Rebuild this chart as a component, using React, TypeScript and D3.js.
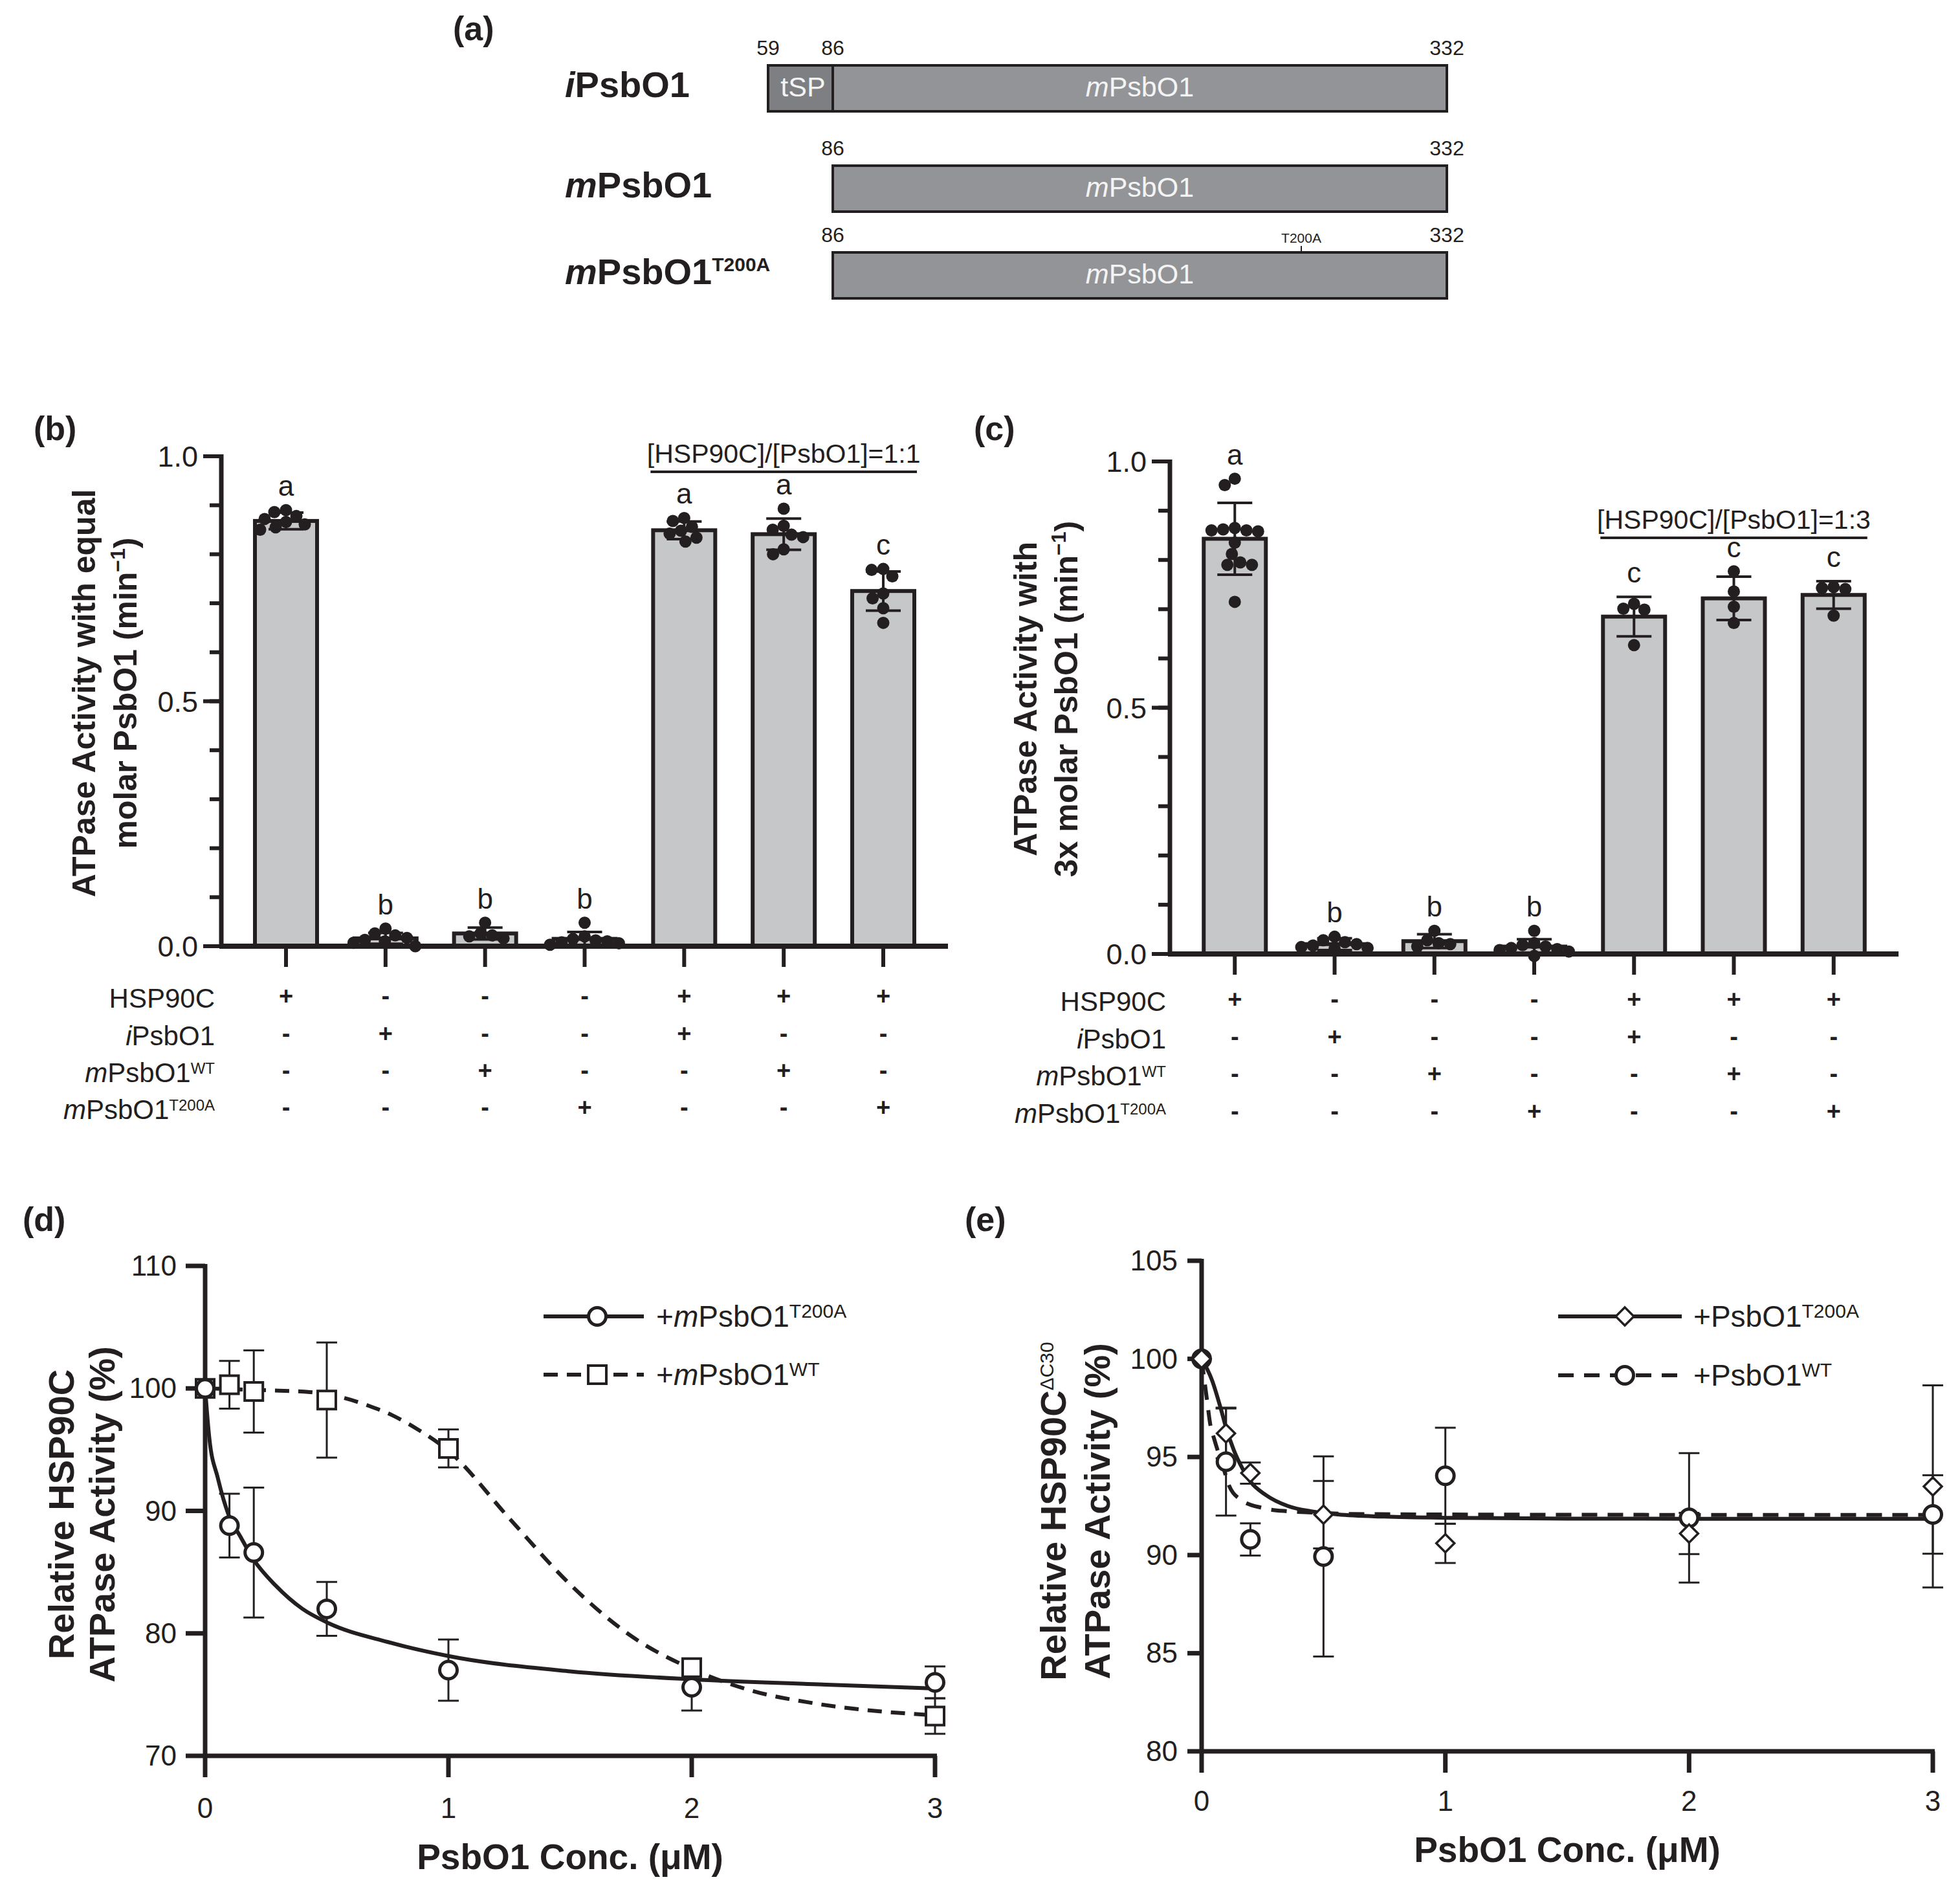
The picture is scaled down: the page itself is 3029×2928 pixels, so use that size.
import React, { useEffect } from 'react';
import * as d3 from 'd3';

const FONT = "'Liberation Sans', Arial, Helvetica, sans-serif";
const INK = '#231f20';

// (a) construct map
const CONSTRUCT_PREFIX = ['i', 'm', 'm'];
const CONSTRUCT_SUP = ['', '', 'T200A'];
const CONSTRUCT_START = [59, 86, 86];
const CONSTRUCT_END = [332, 332, 332];
const TRANSIT_END = 86;
const MUTATION_SITE = 200;

// (b) / (c) bar charts
const ROW_PREFIX = ['', 'i', 'm', 'm'];
const ROW_NAME = ['HSP90C', 'PsbO1', 'PsbO1', 'PsbO1'];
const ROW_SUP = ['', '', 'WT', 'T200A'];
const MIX = [
  ['+', '-', '-', '-', '+', '+', '+'],
  ['-', '+', '-', '-', '+', '-', '-'],
  ['-', '-', '+', '-', '-', '+', '-'],
  ['-', '-', '-', '+', '-', '-', '+'],
];

const B_MEAN = [0.868, 0.016, 0.026, 0.015, 0.849, 0.841, 0.725];
const B_SD = [0.017, 0.011, 0.012, 0.014, 0.018, 0.032, 0.04];
const B_DOTS = [
  [0.89, 0.886, 0.878, 0.872, 0.866, 0.861, 0.855, 0.85],
  [0.036, 0.026, 0.022, 0.017, 0.013, 0.01, 0.007, 0.0],
  [0.048, 0.026, 0.022, 0.02, 0.016],
  [0.048, 0.02, 0.015, 0.012, 0.01, 0.008, 0.006, 0.003],
  [0.874, 0.868, 0.856, 0.848, 0.842, 0.834, 0.826],
  [0.893, 0.858, 0.85, 0.84, 0.835, 0.81, 0.8],
  [0.77, 0.768, 0.755, 0.72, 0.71, 0.69, 0.66],
];
const B_LETTERS = ['a', 'b', 'b', 'b', 'a', 'a', 'c'];

const C_MEAN = [0.843, 0.02, 0.026, 0.015, 0.685, 0.722, 0.729];
const C_SD = [0.073, 0.012, 0.014, 0.015, 0.04, 0.044, 0.028];
const C_DOTS = [
  [0.965, 0.952, 0.865, 0.862, 0.86, 0.858, 0.86, 0.835, 0.812, 0.795, 0.79, 0.79, 0.715],
  [0.035, 0.028, 0.024, 0.02, 0.017, 0.014, 0.012, 0.01],
  [0.047, 0.028, 0.022, 0.02, 0.015],
  [0.047, 0.022, 0.018, 0.015, 0.012, 0.01, 0.008, 0.005, -0.004],
  [0.711, 0.699, 0.701, 0.627],
  [0.777, 0.736, 0.705, 0.672],
  [0.745, 0.741, 0.743, 0.687],
];
const C_LETTERS = ['a', 'b', 'b', 'b', 'c', 'c', 'c'];

// (d) / (e) titration
const CONC = [0, 0.1, 0.2, 0.5, 1, 2, 3];

const D_T200A_MEAN = [100, 88.8, 86.6, 82.0, 77.0, 75.6, 76.0];
const D_T200A_SD = [0, 2.6, 5.3, 2.2, 2.5, 1.9, 1.3];
const D_WT_MEAN = [100, 100.3, 99.75, 99.05, 95.1, 77.2, 73.25];
const D_WT_SD = [0, 1.95, 3.35, 4.7, 1.55, 0.6, 1.45];
const D_FIT_T200A: [number, number][] = [
  [0, 100], [0.017, 96.0], [0.052, 92.7], [0.096, 89.7], [0.145, 87.9], [0.2, 86.0],
  [0.29, 83.9], [0.4, 82.0], [0.5, 80.9], [0.75, 79.3], [1, 78.15], [1.5, 76.9],
  [2, 76.25], [2.5, 75.85], [3, 75.5],
];
const D_FIT_WT: [number, number][] = [
  [0, 100], [0.25, 99.85], [0.43, 99.7], [0.575, 99.2], [0.67, 98.6], [0.77, 97.8],
  [0.87, 96.7], [1, 94.9], [1.25, 89.4], [1.5, 84.0], [1.75, 79.8], [2, 77.1],
  [2.25, 75.3], [2.5, 74.3], [3, 73.3],
];

const E_T200A_MEAN = [100, 96.2, 94.18, 92.06, 90.6, 91.1, 93.5];
const E_T200A_SD = [0, 1.27, 0.54, 1.72, 1.0, 1.05, 5.15];
const E_WT_MEAN = [100, 94.76, 90.8, 89.93, 94.04, 91.9, 92.07];
const E_WT_SD = [0, 2.75, 0.82, 5.1, 2.45, 3.3, 2.0];
const E_FIT_T200A: [number, number][] = [
  [0, 100], [0.043, 98.9], [0.079, 97.45], [0.1, 96.5], [0.132, 95.35], [0.168, 94.4],
  [0.2, 93.75], [0.265, 93.05], [0.354, 92.5], [0.45, 92.23], [0.56, 92.07],
  [0.75, 91.96], [1, 91.9], [1.5, 91.86], [2, 91.85], [3, 91.85],
];
const E_FIT_WT: [number, number][] = [
  [0, 100], [0.021, 98.0], [0.035, 96.7], [0.052, 95.9], [0.088, 94.5], [0.114, 93.5],
  [0.16, 92.83], [0.25, 92.4], [0.354, 92.23], [0.45, 92.17], [0.6, 92.1], [1, 92.07],
  [2, 92.05], [3, 92.05],
];

// simple beeswarm: nudge dots sideways until they stop overlapping
function swarm(vals: number[], y: (v: number) => number, r: number) {
  const placed: { dx: number; py: number }[] = [];
  const out: { dx: number; py: number }[] = new Array(vals.length);
  const order = d3.range(vals.length).sort((a, b) => vals[b] - vals[a]);
  const minD = 2 * r - 1;
  order.forEach((i) => {
    const py = y(vals[i]);
    let dx = 0;
    for (let k = 0; k < 800; k++) {
      const c = (k % 2 === 0 ? 1 : -1) * Math.ceil(k / 2) * 0.5;
      if (placed.every((p) => Math.hypot(p.dx - c, p.py - py) >= minD)) {
        dx = c;
        break;
      }
    }
    const pt = { dx, py };
    placed.push(pt);
    out[i] = pt;
  });
  return out;
}

const ConstructMap = () => {
  const x = d3
    .scaleLinear()
    .domain([59, TRANSIT_END, MUTATION_SITE, 332])
    .range([1187, 1287, 2011, 2236]);
  const rowTop = [101, 256, 390];
  const h = 71;
  return (
    <g>
      <text x={700} y={62} fontSize={52} fontWeight="bold">(a)</text>
      {CONSTRUCT_PREFIX.map((pre, i) => {
        const t = rowTop[i];
        const x0 = x(CONSTRUCT_START[i]);
        const x1 = x(CONSTRUCT_END[i]);
        const xs = x(TRANSIT_END);
        const transit = CONSTRUCT_START[i] < TRANSIT_END;
        const sup = CONSTRUCT_SUP[i];
        return (
          <g key={i}>
            <text x={873} y={t + 49} fontSize={56} fontWeight="bold">
              <tspan fontStyle="italic">{pre}</tspan>PsbO1
              {sup && <tspan fontSize={30} dy={-20}>{sup}</tspan>}
            </text>
            <rect x={x0} y={t} width={x1 - x0} height={h} fill="#939498" stroke={INK} strokeWidth={4} />
            {transit && (
              <rect x={x0} y={t} width={xs - x0} height={h} fill="#7e7f83" stroke={INK} strokeWidth={4} />
            )}
            {transit && (
              <text x={(x0 + xs) / 2 + 4} y={t + h / 2 + 12} textAnchor="middle" fontSize={43} fill="#f4f4f4">
                tSP
              </text>
            )}
            <text x={(xs + x1) / 2} y={t + h / 2 + 12} textAnchor="middle" fontSize={43} fill="#f4f4f4">
              <tspan fontStyle="italic">m</tspan>PsbO1
            </text>
            <g fontSize={32} fill={INK} textAnchor="middle">
              <text x={x0} y={t - 16}>{CONSTRUCT_START[i]}</text>
              {transit && <text x={xs} y={t - 16}>{TRANSIT_END}</text>}
              <text x={x1} y={t - 16}>{CONSTRUCT_END[i]}</text>
            </g>
            {sup && (
              <g>
                <line x1={x(MUTATION_SITE)} x2={x(MUTATION_SITE)} y1={t - 10} y2={t} stroke={INK} strokeWidth={2} />
                <text x={x(MUTATION_SITE)} y={t - 15} textAnchor="middle" fontSize={21}>{sup}</text>
              </g>
            )}
          </g>
        );
      })}
    </g>
  );
};

type BarProps = {
  axisX: number; top: number; base: number; right: number;
  mean: number[]; sd: number[]; dots: number[][]; letters: string[];
  ratio: string; bracketY: number; labelRight: number; rowBase: number[];
  title: [string, string]; titleX: [number, number]; titleY: number;
  tag: string; tagX: number; tagY: number;
};

const BarPanel = (p: BarProps) => {
  const y = d3.scaleLinear().domain([0, 1]).range([p.base, p.top]);
  const x = d3
    .scalePoint<number>()
    .domain(d3.range(p.mean.length))
    .range([p.axisX, p.right])
    .padding(0.65);
  const bw = 96;
  const r = 9.5;
  const cap = 27;
  const fmt = d3.format('.1f');
  const bx0 = (x(4) as number) - 52;
  const bx1 = (x(6) as number) + 52;
  return (
    <g>
      <text x={p.tagX} y={p.tagY} fontSize={52} fontWeight="bold">{p.tag}</text>
      {p.mean.map((m, i) => (
        <rect key={'bar' + i} x={(x(i) as number) - bw / 2} y={y(m)} width={bw}
          height={p.base - y(m)} fill="#c6c7c9" stroke={INK} strokeWidth={6} />
      ))}
      {p.dots.map((vals, i) =>
        swarm(vals, y, r).map((d, j) => (
          <circle key={`dot${i}-${j}`} cx={(x(i) as number) + d.dx} cy={d.py} r={r} fill={INK} />
        ))
      )}
      {p.mean.map((m, i) => {
        const cx = x(i) as number;
        const lo = y(m - p.sd[i]);
        const hi = y(m + p.sd[i]);
        return (
          <g key={'err' + i} stroke={INK} strokeWidth={4}>
            <line x1={cx} x2={cx} y1={lo} y2={hi} />
            <line x1={cx - cap} x2={cx + cap} y1={hi} y2={hi} />
            <line x1={cx - cap} x2={cx + cap} y1={lo} y2={lo} />
          </g>
        );
      })}
      {p.letters.map((l, i) => {
        const topV = Math.max(d3.max(p.dots[i]) as number, p.mean[i] + p.sd[i]);
        return (
          <text key={'let' + i} x={x(i)} y={y(topV) - 22} textAnchor="middle" fontSize={44}>{l}</text>
        );
      })}
      {/* y axis */}
      <line x1={p.axisX} x2={p.axisX} y1={p.base} y2={p.top - 3} stroke={INK} strokeWidth={7} />
      {y.ticks(10).map((t) => (
        <line key={'mt' + t} x1={p.axisX - 18} x2={p.axisX} y1={y(t)} y2={y(t)} stroke={INK} strokeWidth={6} />
      ))}
      {y.ticks(2).map((t) => (
        <g key={'Mt' + t}>
          <line x1={p.axisX - 28} x2={p.axisX} y1={y(t)} y2={y(t)} stroke={INK} strokeWidth={6} />
          <text x={p.axisX - 36} y={y(t) + 16} textAnchor="end" fontSize={45}>{fmt(t)}</text>
        </g>
      ))}
      {/* x axis */}
      <line x1={p.axisX - 3} x2={p.right} y1={p.base} y2={p.base} stroke={INK} strokeWidth={8} />
      {p.mean.map((_, i) => (
        <line key={'ct' + i} x1={x(i)} x2={x(i)} y1={p.base} y2={p.base + 32} stroke={INK} strokeWidth={6} />
      ))}
      {/* bracket */}
      <text x={(bx0 + bx1) / 2} y={p.bracketY} textAnchor="middle" fontSize={41}>{p.ratio}</text>
      <line x1={bx0} x2={bx1} y1={p.bracketY + 14} y2={p.bracketY + 14} stroke={INK} strokeWidth={4} />
      {/* composition table */}
      {ROW_NAME.map((name, j) => (
        <g key={'row' + j}>
          <text x={p.labelRight} y={p.rowBase[j]} textAnchor="end" fontSize={42}>
            <tspan fontStyle="italic">{ROW_PREFIX[j]}</tspan>
            {name}
            {ROW_SUP[j] && <tspan fontSize={24} dy={-13}>{ROW_SUP[j]}</tspan>}
          </text>
          {MIX[j].map((s, i) => (
            <text key={'s' + i} x={x(i)} y={p.rowBase[j] - 5} textAnchor="middle" fontSize={38} fontWeight="bold">
              {s}
            </text>
          ))}
        </g>
      ))}
      {/* y title */}
      <g fontWeight="bold" fontSize={50} textAnchor="middle">
        <text transform={`translate(${p.titleX[0]},${p.titleY}) rotate(-90)`}>{p.title[0]}</text>
        <text transform={`translate(${p.titleX[1]},${p.titleY}) rotate(-90)`}>
          {p.title[1]}
          <tspan fontSize={32} dy={-18}>−1</tspan>
          <tspan dy={18}>)</tspan>
        </text>
      </g>
    </g>
  );
};

type Series = {
  mean: number[]; sd: number[]; fit: [number, number][];
  marker: 'circle' | 'square' | 'diamond'; dashed: boolean; prefix: string; sup: string;
};

const Marker = ({ kind, cx, cy }: { kind: string; cx: number; cy: number }) => {
  if (kind === 'circle')
    return <circle cx={cx} cy={cy} r={13.5} fill="white" stroke={INK} strokeWidth={5} />;
  if (kind === 'square')
    return <rect x={cx - 14} y={cy - 14} width={28} height={28} fill="white" stroke={INK} strokeWidth={4} />;
  return (
    <path d={`M${cx},${cy - 14}L${cx + 14},${cy}L${cx},${cy + 14}L${cx - 14},${cy}Z`}
      fill="white" stroke={INK} strokeWidth={3.5} />
  );
};

type LineProps = {
  xPx: [number, number]; yPx: [number, number]; yDomain: [number, number]; yTicks: number[];
  tickLen: number; labelGap: number; xLabelY: number; xTitleY: number;
  series: Series[]; legendRows: number[]; legendLine: [number, number]; legendMarker: number; legendText: number;
  titleX: [number, number]; titleY: number; deltaSup: boolean; dash: string;
  tag: string; tagX: number; tagY: number;
};

const LinePanel = (p: LineProps) => {
  const x = d3.scaleLinear().domain([0, 3]).range(p.xPx);
  const y = d3.scaleLinear().domain(p.yDomain).range(p.yPx);
  const line = d3
    .line<[number, number]>()
    .x((d) => x(d[0]))
    .y((d) => y(d[1]))
    .curve(d3.curveMonotoneX);
  const cap = 16;
  const drawOrder = [1, 0];
  return (
    <g>
      <text x={p.tagX} y={p.tagY} fontSize={52} fontWeight="bold">{p.tag}</text>
      {/* axes */}
      <line x1={x(0)} x2={x(0)} y1={y(p.yDomain[0]) + 3} y2={y(p.yDomain[1]) - 3} stroke={INK} strokeWidth={7} />
      {p.yTicks.map((t) => (
        <g key={'yt' + t}>
          <line x1={x(0) - p.tickLen} x2={x(0)} y1={y(t)} y2={y(t)} stroke={INK} strokeWidth={7} />
          <text x={x(0) - p.tickLen - p.labelGap} y={y(t) + 15} textAnchor="end" fontSize={44}>{t}</text>
        </g>
      ))}
      <line x1={x(0) - 3} x2={x(3) + 3} y1={y(p.yDomain[0])} y2={y(p.yDomain[0])} stroke={INK} strokeWidth={7} />
      {x.ticks(3).map((t) => (
        <g key={'xt' + t}>
          <line x1={x(t)} x2={x(t)} y1={y(p.yDomain[0])} y2={y(p.yDomain[0]) + 33} stroke={INK} strokeWidth={7} />
          <text x={x(t)} y={p.xLabelY} textAnchor="middle" fontSize={44}>{t}</text>
        </g>
      ))}
      <text x={(x(0) + x(3)) / 2} y={p.xTitleY} textAnchor="middle" fontSize={55} fontWeight="bold">
        PsbO1 Conc. (μM)
      </text>
      <g fontWeight="bold" fontSize={56} textAnchor="middle">
        <text transform={`translate(${p.titleX[0]},${p.titleY}) rotate(-90)`}>
          Relative HSP90C
          {p.deltaSup && <tspan fontSize={30} fontWeight="normal" dy={-19}>ΔC30</tspan>}
        </text>
        <text transform={`translate(${p.titleX[1]},${p.titleY}) rotate(-90)`}>ATPase Activity (%)</text>
      </g>
      {/* error bars */}
      {drawOrder.map((si) =>
        p.series[si].mean.map((m, i) => {
          const sd = p.series[si].sd[i];
          if (!sd) return null;
          const cx = x(CONC[i]);
          const lo = y(m - sd);
          const hi = y(m + sd);
          return (
            <g key={`eb${si}-${i}`} stroke={INK} strokeWidth={3}>
              <line x1={cx} x2={cx} y1={lo} y2={hi} />
              <line x1={cx - cap} x2={cx + cap} y1={hi} y2={hi} />
              <line x1={cx - cap} x2={cx + cap} y1={lo} y2={lo} />
            </g>
          );
        })
      )}
      {/* fitted curves */}
      {drawOrder.map((si) => (
        <path key={'fit' + si} d={line(p.series[si].fit) || ''} fill="none" stroke={INK} strokeWidth={6}
          strokeDasharray={p.series[si].dashed ? p.dash : undefined} />
      ))}
      {/* points */}
      {drawOrder.map((si) =>
        p.series[si].mean.map((m, i) => (
          <Marker key={`mk${si}-${i}`} kind={p.series[si].marker} cx={x(CONC[i])} cy={y(m)} />
        ))
      )}
      {/* legend */}
      {p.series.map((s, si) => (
        <g key={'lg' + si}>
          <line x1={p.legendLine[0]} x2={p.legendLine[1]} y1={p.legendRows[si]} y2={p.legendRows[si]}
            stroke={INK} strokeWidth={6} strokeDasharray={s.dashed ? p.dash : undefined} />
          <Marker kind={s.marker} cx={p.legendMarker} cy={p.legendRows[si]} />
          <text x={p.legendText} y={p.legendRows[si] + 16} fontSize={46}>
            +<tspan fontStyle="italic">{s.prefix}</tspan>PsbO1
            <tspan fontSize={30} dy={-14}>{s.sup}</tspan>
          </text>
        </g>
      ))}
    </g>
  );
};

const App = () => {
  useEffect(() => {
    document.body.style.margin = '0';
  }, []);
  return (
    <svg width={3029} height={2928} fontFamily={FONT} fill={INK}
      style={{ position: 'absolute', left: 0, top: 0, background: 'white' }}>
      <rect width={3029} height={2928} fill="white" />
      <ConstructMap />
      <BarPanel
        axisX={342} top={705} base={1462} right={1465}
        mean={B_MEAN} sd={B_SD} dots={B_DOTS} letters={B_LETTERS}
        ratio="[HSP90C]/[PsbO1]=1:1" bracketY={715}
        labelRight={332} rowBase={[1557, 1615, 1672, 1729]}
        title={['ATPase Activity with equal', 'molar PsbO1 (min']} titleX={[147, 211]} titleY={1071}
        tag="(b)" tagX={52} tagY={680}
      />
      <BarPanel
        axisX={1808} top={713} base={1474} right={2934}
        mean={C_MEAN} sd={C_SD} dots={C_DOTS} letters={C_LETTERS}
        ratio="[HSP90C]/[PsbO1]=1:3" bracketY={817}
        labelRight={1802} rowBase={[1562, 1620, 1677, 1735]}
        title={['ATPase Activity with', '3x molar PsbO1 (min']} titleX={[1602, 1665]} titleY={1080}
        tag="(c)" tagX={1505} tagY={680}
      />
      <LinePanel
        xPx={[317, 1445]} yPx={[2713, 1956]} yDomain={[70, 110]} yTicks={[70, 80, 90, 100, 110]}
        tickLen={30} labelGap={14} xLabelY={2809} xTitleY={2888}
        series={[
          { mean: D_T200A_MEAN, sd: D_T200A_SD, fit: D_FIT_T200A, marker: 'circle', dashed: false, prefix: 'm', sup: 'T200A' },
          { mean: D_WT_MEAN, sd: D_WT_SD, fit: D_FIT_WT, marker: 'square', dashed: true, prefix: 'm', sup: 'WT' },
        ]}
        legendRows={[2034, 2124]} legendLine={[840, 995]} legendMarker={923} legendText={1014}
        titleX={[114, 177]} titleY={2340} deltaSup={false} dash="22 14"
        tag="(d)" tagX={35} tagY={1902}
      />
      <LinePanel
        xPx={[1857, 2987]} yPx={[2706, 1948]} yDomain={[80, 105]} yTicks={[80, 85, 90, 95, 100, 105]}
        tickLen={22} labelGap={15} xLabelY={2798} xTitleY={2877}
        series={[
          { mean: E_T200A_MEAN, sd: E_T200A_SD, fit: E_FIT_T200A, marker: 'diamond', dashed: false, prefix: '', sup: 'T200A' },
          { mean: E_WT_MEAN, sd: E_WT_SD, fit: E_FIT_WT, marker: 'circle', dashed: true, prefix: '', sup: 'WT' },
        ]}
        legendRows={[2034, 2125]} legendLine={[2408, 2599]} legendMarker={2511} legendText={2617}
        titleX={[1647, 1715]} titleY={2335} deltaSup={true} dash="24 16"
        tag="(e)" tagX={1491} tagY={1902}
      />
    </svg>
  );
};

export default App;
